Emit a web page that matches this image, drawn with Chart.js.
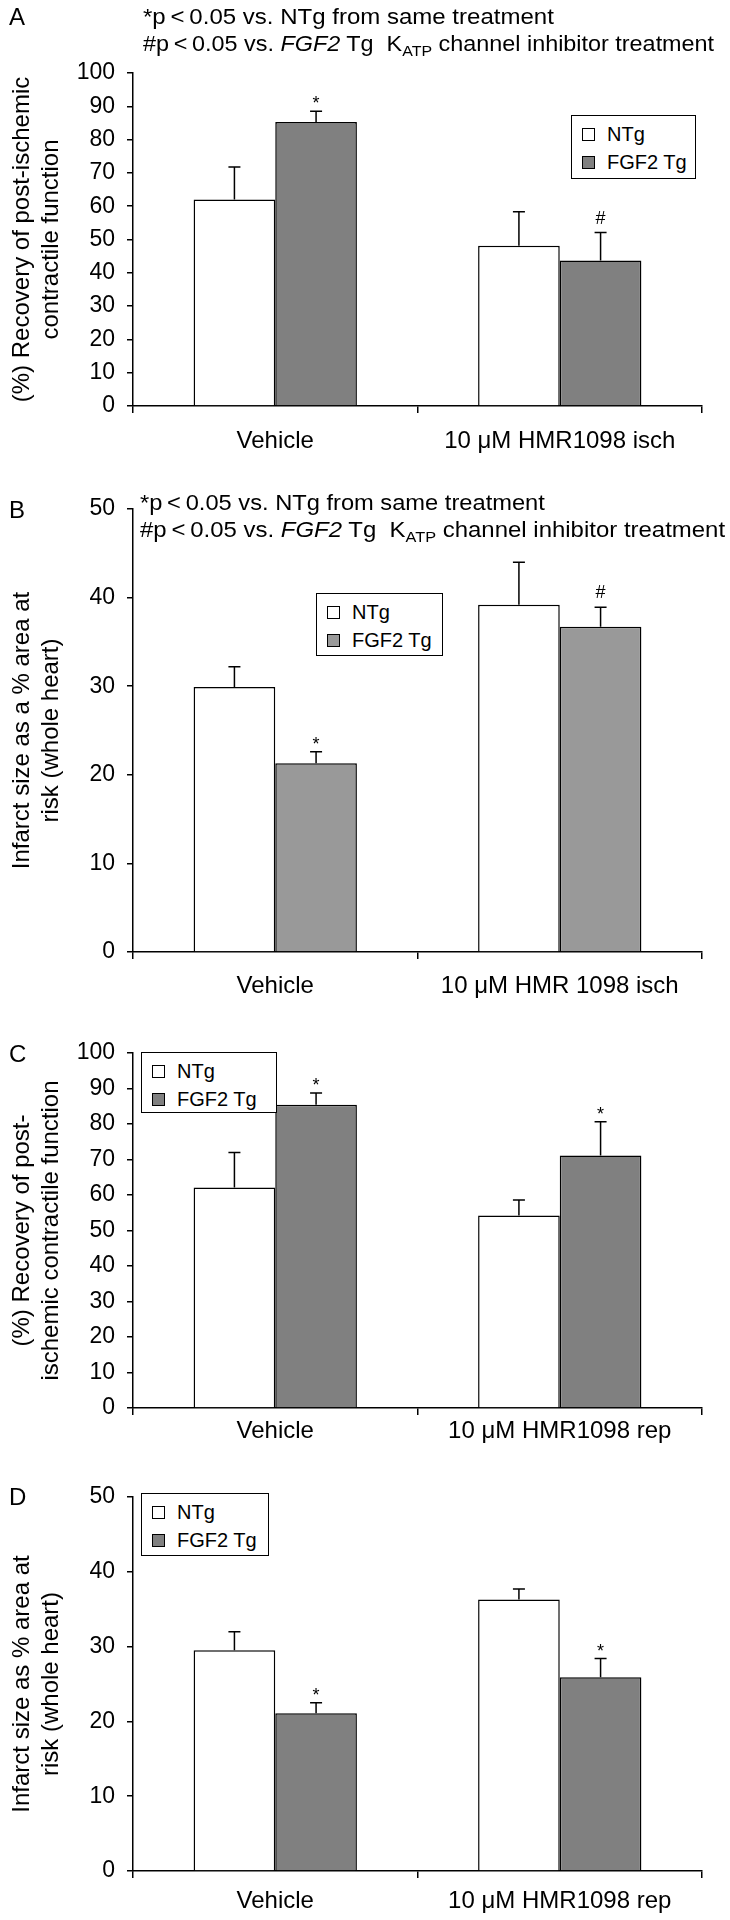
<!DOCTYPE html>
<html>
<head>
<meta charset="utf-8">
<script src="https://cdn.jsdelivr.net/npm/chart.js@4.4.1/dist/chart.umd.min.js"></script>
<style>
  body { margin: 0; background: #fff; font-family: "Liberation Sans", Arial, sans-serif; color: #000; }
  #page { position: relative; width: 730px; height: 1920px; overflow: hidden; }
  #page canvas { position: absolute; left: 0; }
  .letter { position: absolute; font-size: 24px; line-height: 24px; }
  .note { position: absolute; font-size: 22px; line-height: 22px; white-space: nowrap; transform-origin: 0 50%; }
  .note sub { font-size: 15px; vertical-align: -5px; line-height: 0; }
  .legend { position: absolute; box-sizing: border-box; border: 1.5px solid #000; background: #fff; }
  .legend .item { position: absolute; left: 0; font-size: 20px; line-height: 20px; white-space: nowrap; }
  .legend .sw { position: absolute; box-sizing: border-box; width: 13px; height: 13px; border: 1.5px solid #000; top: 4px; }
</style>
</head>
<body>
<div id="page"></div>
<script>
// categories
const groupsIschA = ['Vehicle', '10 \u03bcM HMR1098 isch'];
const groupsIschB = ['Vehicle', '10 \u03bcM HMR 1098 isch'];
const groupsRep = ['Vehicle', '10 \u03bcM HMR1098 rep'];
const seriesNames = ['NTg', 'FGF2 Tg'];

// A: recovery, inhibitor at ischemia
const recovIschNTg = [62.0, 48.1];
const recovIschNTgErr = [9.8, 10.2];
const recovIschFGF2 = [85.3, 43.7];
const recovIschFGF2Err = [3.2, 8.4];
// B: infarct size, inhibitor at ischemia
const infIschNTg = [29.9, 39.2];
const infIschNTgErr = [2.3, 4.8];
const infIschFGF2 = [21.3, 36.7];
const infIschFGF2Err = [1.3, 2.2];
// C: recovery, inhibitor at reperfusion
const recovRepNTg = [62.1, 54.2];
const recovRepNTgErr = [9.9, 4.4];
const recovRepFGF2 = [85.4, 71.1];
const recovRepFGF2Err = [3.3, 9.5];
// D: infarct size, inhibitor at reperfusion
const infRepNTg = [29.5, 36.3];
const infRepNTgErr = [2.5, 1.4];
const infRepFGF2 = [21.1, 25.9];
const infRepFGF2Err = [1.4, 2.5];

// significance marks above FGF2 Tg bars
const marksA = ['*', '#'];
const marksB = ['*', '#'];
const marksC = ['*', '*'];
const marksD = ['*', '*'];

const recoveryMax = 100;
const infarctMax = 50;
const tickStep = 10;

const noteLine1 = '*p\u2009<\u20090.05 vs. NTg from same treatment';
const noteLine2 = '#p\u2009<\u20090.05 vs. <i>FGF2</i> Tg&nbsp;&nbsp;K<sub>ATP</sub> channel inhibitor treatment';

Chart.defaults.font.family = '"Liberation Sans", Arial, sans-serif';
Chart.defaults.color = '#000';

const panels = [
  { letter: 'A', top: 0, height: 470, areaTop: 73, areaBottom: 406, xPad: 14, max: recoveryMax,
    labels: groupsIschA, ntg: recovIschNTg, ntgErr: recovIschNTgErr, fgf: recovIschFGF2, fgfErr: recovIschFGF2Err,
    marks: marksA, gray: '#808080', letterY: 17,
    yTitle: ['(%) Recovery of post-ischemic', 'contractile function'],
    legend: { left: 571, top: 115, width: 125, height: 64 },
    notes: { left: 143, ys: [17, 44], widths: [411, 571] } },
  { letter: 'B', top: 470, height: 530, areaTop: 39, areaBottom: 482, xPad: 13, max: infarctMax,
    labels: groupsIschB, ntg: infIschNTg, ntgErr: infIschNTgErr, fgf: infIschFGF2, fgfErr: infIschFGF2Err,
    marks: marksB, gray: '#999999', letterY: 510,
    yTitle: ['Infarct size as a % area at', 'risk (whole heart)'],
    legend: { left: 316, top: 593, width: 127, height: 63 },
    notes: { left: 140, ys: [503, 530], widths: [405, 585] } },
  { letter: 'C', top: 1000, height: 460, areaTop: 53, areaBottom: 408, xPad: 2, max: recoveryMax,
    labels: groupsRep, ntg: recovRepNTg, ntgErr: recovRepNTgErr, fgf: recovRepFGF2, fgfErr: recovRepFGF2Err,
    marks: marksC, gray: '#808080', letterY: 1054,
    yTitle: ['(%) Recovery of post-', 'ischemic contractile function'],
    legend: { left: 141, top: 1052, width: 136, height: 61 } },
  { letter: 'D', top: 1460, height: 460, areaTop: 37, areaBottom: 411, xPad: 9, max: infarctMax,
    labels: groupsRep, ntg: infRepNTg, ntgErr: infRepNTgErr, fgf: infRepFGF2, fgfErr: infRepFGF2Err,
    marks: marksD, gray: '#808080', letterY: 1497,
    yTitle: ['Infarct size as % area at', 'risk (whole heart)'],
    legend: { left: 141, top: 1493, width: 128, height: 63 } }
];

// one-sided error bars with cap, plus significance symbols
const errorBars = {
  id: 'errorBars',
  afterDatasetsDraw(chart) {
    const ctx = chart.ctx;
    const yScale = chart.scales.y;
    chart.data.datasets.forEach((ds, di) => {
      const meta = chart.getDatasetMeta(di);
      meta.data.forEach((bar, i) => {
        const top = yScale.getPixelForValue(ds.data[i] + ds.errors[i]);
        ctx.save();
        ctx.strokeStyle = '#000';
        ctx.lineWidth = 1.5;
        ctx.beginPath();
        ctx.moveTo(bar.x, bar.y);
        ctx.lineTo(bar.x, top);
        ctx.moveTo(bar.x - 6, top);
        ctx.lineTo(bar.x + 6, top);
        ctx.stroke();
        const m = ds.marks ? ds.marks[i] : '';
        if (m) {
          ctx.fillStyle = '#000';
          ctx.font = '18px "Liberation Sans", Arial, sans-serif';
          ctx.textAlign = 'center';
          ctx.textBaseline = 'alphabetic';
          ctx.fillText(m, bar.x, top - (m === '#' ? 9 : 2));
        }
        ctx.restore();
      });
    });
  }
};

const page = document.getElementById('page');

panels.forEach(p => {
  const canvas = document.createElement('canvas');
  canvas.width = 730;
  canvas.height = p.height;
  canvas.style.top = p.top + 'px';
  page.appendChild(canvas);

  new Chart(canvas.getContext('2d'), {
    type: 'bar',
    data: {
      labels: p.labels,
      datasets: [
        { label: seriesNames[0], data: p.ntg, errors: p.ntgErr, backgroundColor: '#ffffff',
          borderColor: '#000', borderWidth: 1.5 },
        { label: seriesNames[1], data: p.fgf, errors: p.fgfErr, marks: p.marks, backgroundColor: p.gray,
          borderColor: '#000', borderWidth: 1.5 }
      ]
    },
    options: {
      responsive: false,
      animation: false,
      layout: { padding: { top: p.areaTop, right: 28, bottom: 0, left: 0 } },
      plugins: { legend: { display: false }, tooltip: { enabled: false } },
      datasets: { bar: { categoryPercentage: 0.574, barPercentage: 1 } },
      scales: {
        x: {
          grid: { drawOnChartArea: false, tickLength: 7, color: '#000', lineWidth: 1.5 },
          border: { color: '#000', width: 1.5 },
          ticks: { font: { size: 24 }, padding: p.xPad, color: '#000' },
          afterFit: s => { s.height = p.height - p.areaBottom; }
        },
        y: {
          min: 0, max: p.max,
          grid: { drawOnChartArea: false, tickLength: 6, color: '#000', lineWidth: 1.5 },
          border: { color: '#000', width: 1.5 },
          ticks: { stepSize: tickStep, font: { size: 23 }, padding: 12, color: '#000' },
          title: { display: true, text: p.yTitle, font: { size: 24, lineHeight: 1.2 }, padding: { top: 8, bottom: 0 }, color: '#000' },
          afterFit: s => { s.width = 133; }
        }
      }
    },
    plugins: [errorBars]
  });

  // panel letter
  const letter = document.createElement('div');
  letter.className = 'letter';
  letter.textContent = p.letter;
  letter.style.left = '9px';
  letter.style.top = (p.letterY - 12) + 'px';
  page.appendChild(letter);

  // legend box inside the plot
  const lg = document.createElement('div');
  lg.className = 'legend';
  Object.assign(lg.style, { left: p.legend.left + 'px', top: p.legend.top + 'px',
    width: p.legend.width + 'px', height: p.legend.height + 'px' });
  seriesNames.forEach((name, k) => {
    const item = document.createElement('div');
    item.className = 'item';
    item.style.top = (k === 0 ? 8 : 36) + 'px';
    const sw = document.createElement('span');
    sw.className = 'sw';
    sw.style.left = '10px';
    sw.style.background = k === 0 ? '#fff' : p.gray;
    const tx = document.createElement('span');
    tx.style.position = 'absolute';
    tx.style.left = '35px';
    tx.textContent = name;
    item.appendChild(sw);
    item.appendChild(tx);
    lg.appendChild(item);
  });
  page.appendChild(lg);

  // significance notes (A and B only)
  if (p.notes) {
    [noteLine1, noteLine2].forEach((html, k) => {
      const n = document.createElement('div');
      n.className = 'note';
      n.innerHTML = html;
      n.style.left = p.notes.left + 'px';
      n.style.top = (p.notes.ys[k] - 11) + 'px';
      page.appendChild(n);
      const w = n.getBoundingClientRect().width;
      n.style.transform = 'scaleX(' + (p.notes.widths[k] / w).toFixed(3) + ')';
    });
  }
});
</script>
</body>
</html>
